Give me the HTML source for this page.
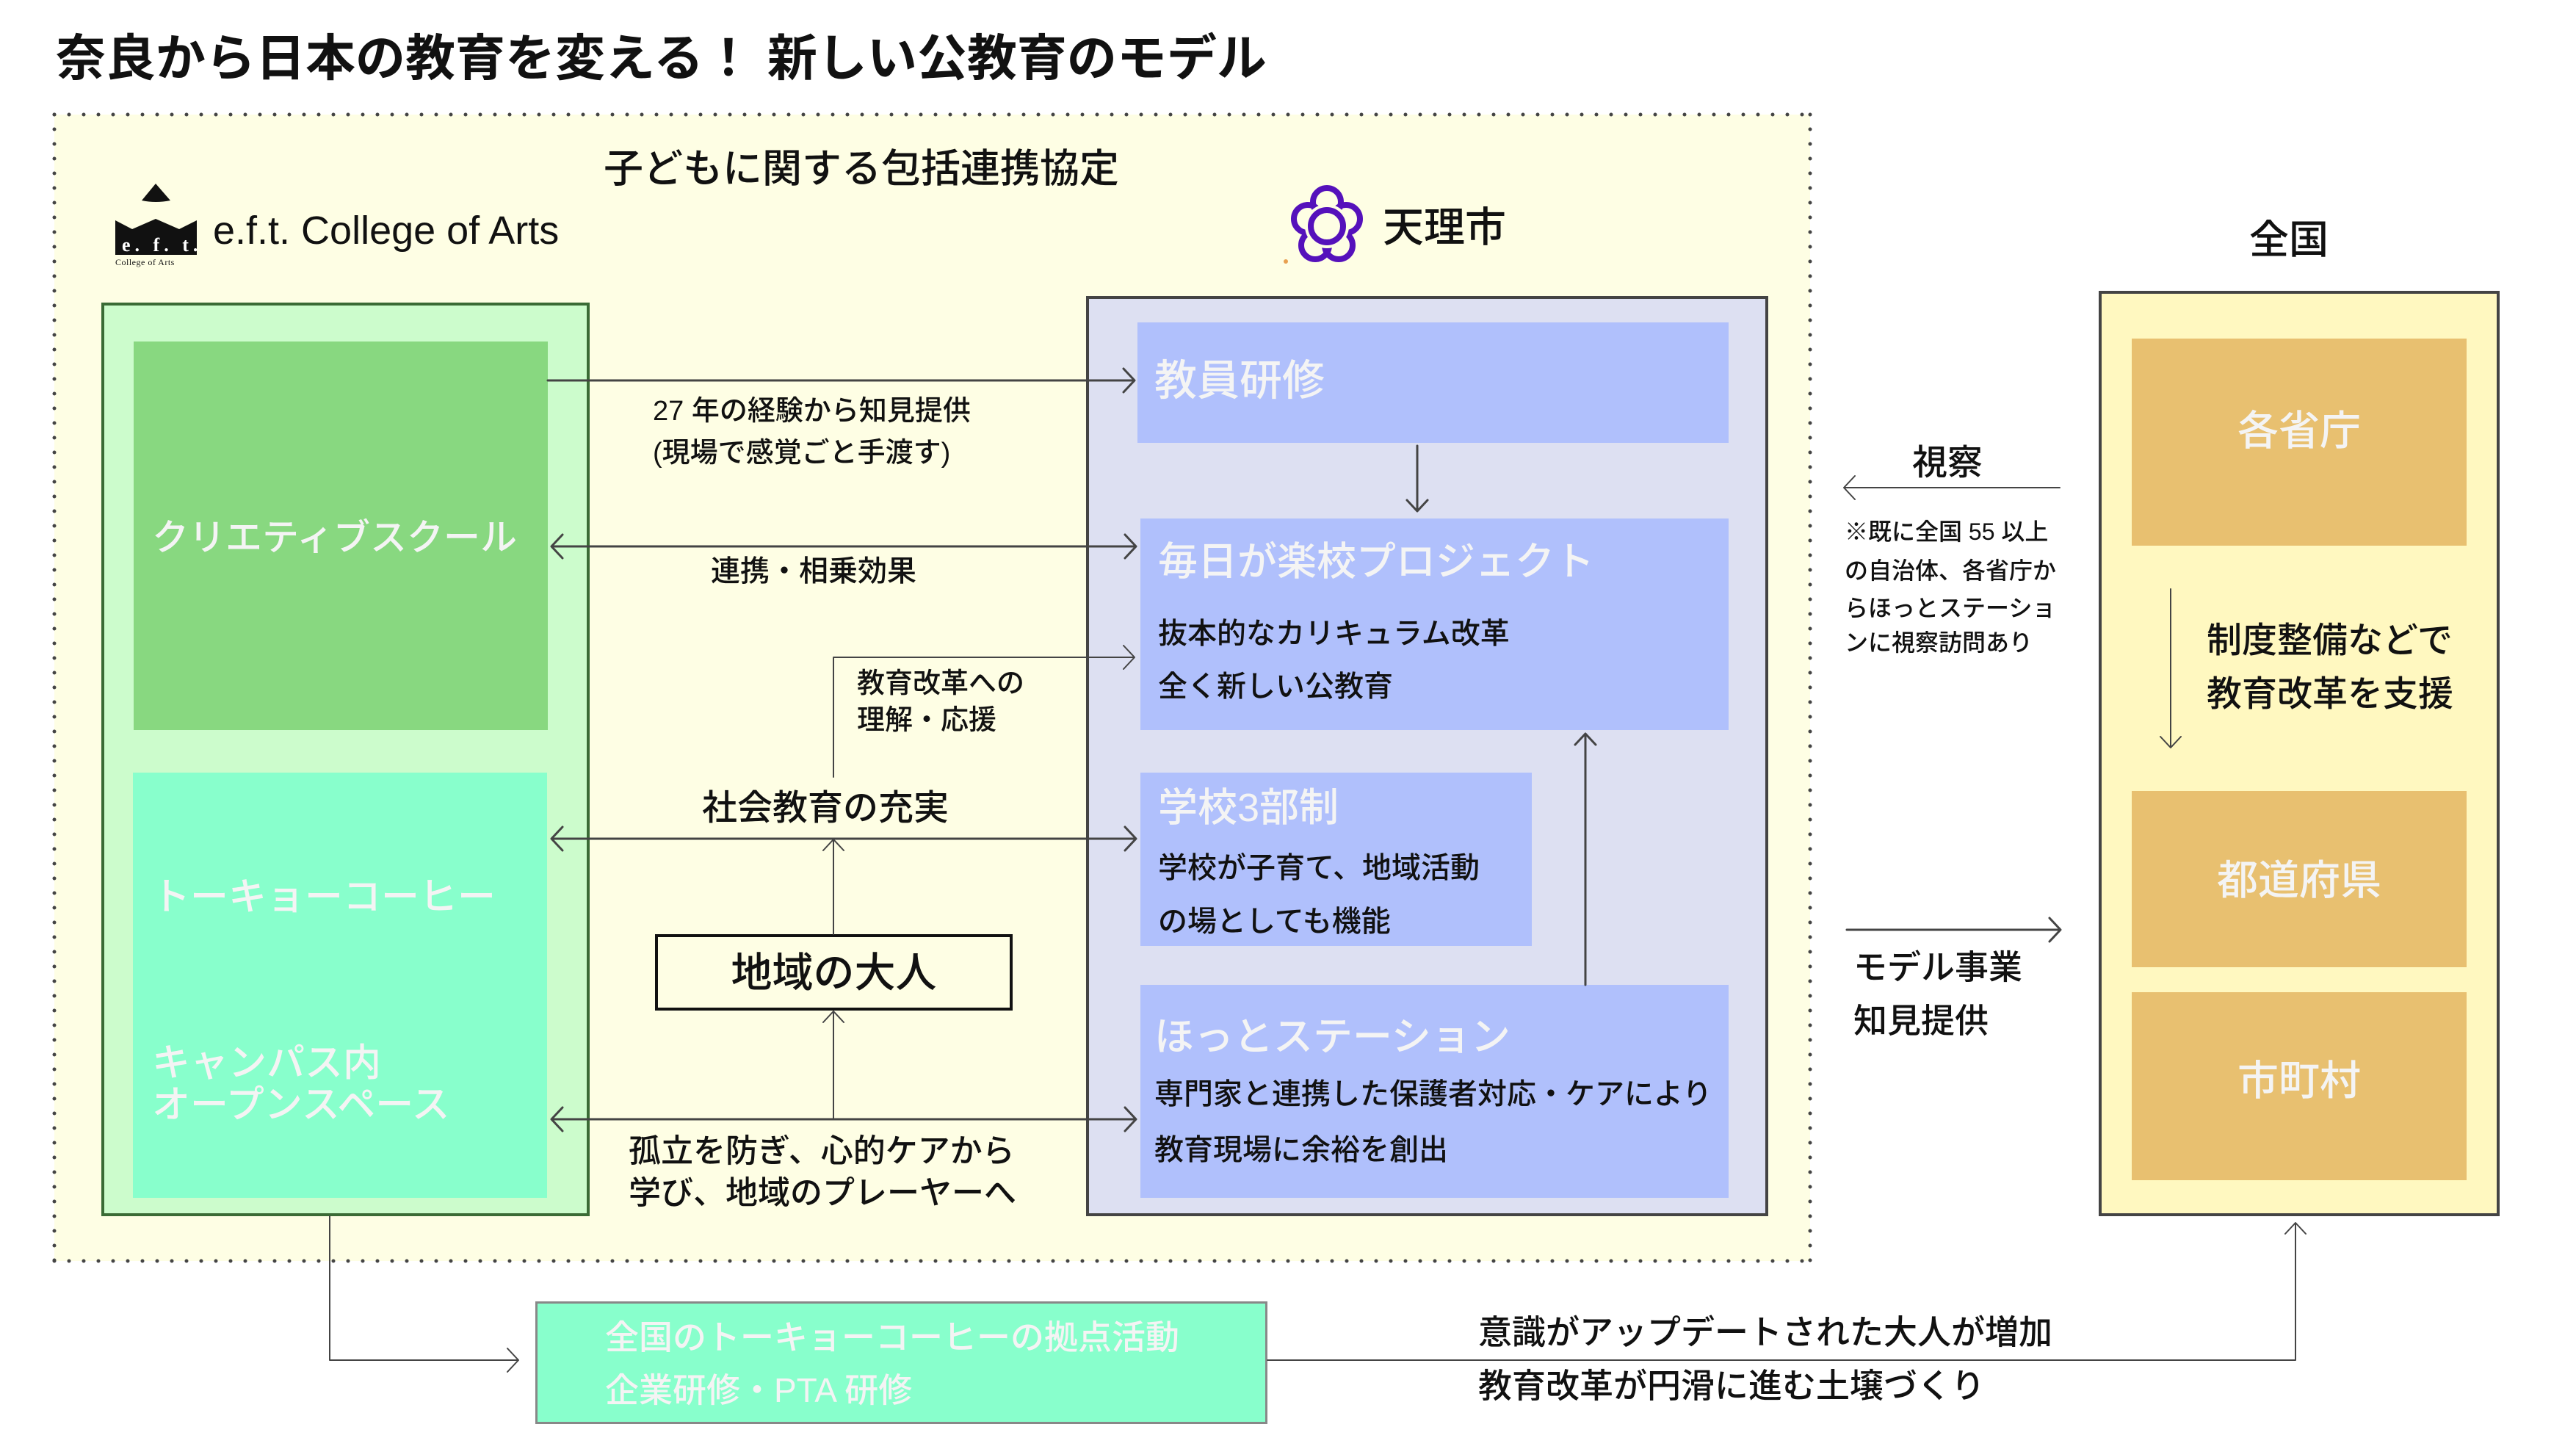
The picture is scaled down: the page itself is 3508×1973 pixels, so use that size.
<!DOCTYPE html>
<html><head><meta charset="utf-8">
<style>
html,body{margin:0;padding:0;}
body{width:3508px;height:1973px;position:relative;background:#fff;overflow:hidden;font-family:"Liberation Sans","Noto Sans CJK JP",sans-serif;color:#111;}
.a{position:absolute;white-space:nowrap;line-height:1;font-weight:500;}
.b{position:absolute;box-sizing:border-box;}
.w{color:#f4f4f4;}
</style></head><body>

<div class="b" style="left:74px;top:156px;width:2391px;height:1561px;background:#fefee4;"></div>

<div class="b" style="left:138px;top:412px;width:665px;height:1244px;background:#ccfccc;border:4px solid #3a6b35;"></div>
<div class="b" style="left:182px;top:465px;width:564px;height:529px;background:#88d880;"></div>
<div class="b" style="left:181px;top:1052px;width:564px;height:579px;background:#88ffcc;"></div>

<div class="b" style="left:1479px;top:403px;width:929px;height:1253px;background:#dde0f2;border:4px solid #444;"></div>
<div class="b" style="left:1549px;top:439px;width:805px;height:164px;background:#b0c0fc;"></div>
<div class="b" style="left:1553px;top:706px;width:801px;height:288px;background:#b0c0fc;"></div>
<div class="b" style="left:1553px;top:1052px;width:533px;height:236px;background:#b0c0fc;"></div>
<div class="b" style="left:1553px;top:1341px;width:801px;height:290px;background:#b0c0fc;"></div>

<div class="b" style="left:892px;top:1272px;width:487px;height:104px;border:4px solid #111;background:#fefee4;"></div>

<div class="b" style="left:2858px;top:396px;width:546px;height:1260px;background:#fff8c0;border:4px solid #444;"></div>
<div class="b" style="left:2903px;top:461px;width:456px;height:282px;background:#e8c070;"></div>
<div class="b" style="left:2903px;top:1077px;width:456px;height:240px;background:#e8c070;"></div>
<div class="b" style="left:2903px;top:1351px;width:456px;height:256px;background:#e8c070;"></div>

<div class="b" style="left:729px;top:1772px;width:997px;height:167px;background:#88ffcc;border:3px solid #888;"></div>

<svg width="3508" height="1973" style="position:absolute;left:0;top:0;" fill="none">
<g stroke="#444" stroke-width="5" stroke-dasharray="0 20" stroke-linecap="round">
<line x1="74" y1="156" x2="2465" y2="156"/>
<line x1="74" y1="1717" x2="2465" y2="1717"/>
<line x1="74" y1="156" x2="74" y2="1717"/>
<line x1="2465" y1="156" x2="2465" y2="1717"/>
</g>
<g stroke="#444" stroke-width="3" stroke-linejoin="round" stroke-linecap="round">
<path d="M746 518H1544 M1530 502L1545 518L1530 534"/>
<path d="M752 744H1546 M1532 728L1547 744L1532 760 M766 728L751 744L766 760"/>
<path d="M1135 1058V895H1544 M1530 879L1545 895L1530 911" stroke-width="2"/>
<path d="M752 1142H1546 M1532 1126L1547 1142L1532 1158 M766 1126L751 1142L766 1158"/>
<path d="M1135 1272V1144 M1121 1158L1135 1143L1149 1158" stroke-width="2"/>
<path d="M1135 1524V1378 M1121 1392L1135 1377L1149 1392" stroke-width="2"/>
<path d="M752 1524H1546 M1532 1508L1547 1524L1532 1540 M766 1508L751 1524L766 1540"/>
<path d="M1930 607V695 M1916 681L1930 696L1944 681"/>
<path d="M2159 1341V1000 M2145 1014L2159 999L2173 1014"/>
<path d="M2805 664H2512 M2526 648L2511 664L2526 680" stroke-width="2"/>
<path d="M2515 1266H2805 M2791 1250L2806 1266L2791 1282"/>
<path d="M2956 802V1017 M2942 1003L2956 1018L2970 1003" stroke-width="2"/>
<path d="M449 1656V1852H705 M691 1836L706 1852L691 1868" stroke-width="2"/>
<path d="M1726 1852H3126V1666 M3112 1680L3126 1665L3140 1680" stroke-width="2"/>
</g>
<path d="M193 273L212 250L232 273Q212 277 193 273Z" fill="#111"/>
<path d="M157 300L180 312L212 298L244 312L268 300V347H157Z" fill="#111"/>
<g stroke="#5511bb" stroke-width="8" fill="none">
<circle cx="1807" cy="275" r="19"/>
<circle cx="1781" cy="298" r="19"/>
<circle cx="1833" cy="298" r="19"/>
<circle cx="1791" cy="334" r="19"/>
<circle cx="1823" cy="334" r="19"/>
</g>
<circle cx="1807" cy="308" r="30" fill="#fefee4"/>
<circle cx="1807" cy="308" r="22" stroke="#5511bb" stroke-width="8" fill="none"/>
<circle cx="1751" cy="356" r="3" fill="#e8a050"/>
</svg>

<div class="a" style="left:166px;top:321px;font-family:'Liberation Serif',serif;font-size:26px;color:#fff;letter-spacing:6px;font-weight:bold;">e. f. t.</div>
<div class="a" style="left:157px;top:351px;font-family:'Liberation Serif',serif;font-size:12px;letter-spacing:0.5px;">College of Arts</div>

<div class="a" style="left:76px;top:46px;font-size:68px;font-weight:bold;">奈良から日本の教育を変える！ 新しい公教育のモデル</div>
<div class="a" style="left:822px;top:203px;font-size:54px;">子どもに関する包括連携協定</div>
<div class="a" style="left:290px;top:287px;font-size:54px;">e.f.t. College of Arts</div>
<div class="a" style="left:1883px;top:282px;font-size:56px;">天理市</div>
<div class="a" style="left:3063px;top:300px;font-size:54px;">全国</div>

<div class="a w" style="left:207px;top:707px;font-size:50px;">クリエティブスクール</div>
<div class="a w" style="left:207px;top:1196px;font-size:52px;">トーキョーコーヒー</div>
<div class="a w" style="left:207px;top:1422px;font-size:52px;">キャンパス内</div>
<div class="a w" style="left:207px;top:1479px;font-size:52px;">オープンスペース</div>

<div class="a" style="left:889px;top:541px;font-size:38px;">27 年の経験から知見提供</div>
<div class="a" style="left:889px;top:598px;font-size:38px;">(現場で感覚ごと手渡す)</div>
<div class="a" style="left:968px;top:758px;font-size:40px;">連携・相乗効果</div>
<div class="a" style="left:1167px;top:912px;font-size:38px;">教育改革への</div>
<div class="a" style="left:1167px;top:962px;font-size:38px;">理解・応援</div>
<div class="a" style="left:956px;top:1077px;font-size:48px;">社会教育の充実</div>
<div class="a" style="left:892px;top:1297px;width:487px;text-align:center;font-size:56px;">地域の大人</div>
<div class="a" style="left:856px;top:1546px;font-size:44px;">孤立を防ぎ、心的ケアから</div>
<div class="a" style="left:856px;top:1603px;font-size:44px;">学び、地域のプレーヤーへ</div>

<div class="a w" style="left:1572px;top:490px;font-size:58px;">教員研修</div>
<div class="a w" style="left:1577px;top:738px;font-size:54px;">毎日が楽校プロジェクト</div>
<div class="a" style="left:1577px;top:843px;font-size:40px;">抜本的なカリキュラム改革</div>
<div class="a" style="left:1577px;top:915px;font-size:40px;">全く新しい公教育</div>
<div class="a w" style="left:1577px;top:1073px;font-size:54px;">学校3部制</div>
<div class="a" style="left:1577px;top:1162px;font-size:40px;">学校が子育て、地域活動</div>
<div class="a" style="left:1577px;top:1235px;font-size:40px;">の場としても機能</div>
<div class="a w" style="left:1572px;top:1385px;font-size:54px;">ほっとステーション</div>
<div class="a" style="left:1572px;top:1470px;font-size:40px;">専門家と連携した保護者対応・ケアにより</div>
<div class="a" style="left:1572px;top:1546px;font-size:40px;">教育現場に余裕を創出</div>

<div class="a" style="left:2604px;top:607px;font-size:48px;">視察</div>
<div class="a" style="left:2512px;top:708px;font-size:32px;">※既に全国 55 以上</div>
<div class="a" style="left:2512px;top:761px;font-size:32px;">の自治体、各省庁か</div>
<div class="a" style="left:2512px;top:812px;font-size:32px;">らほっとステーショ</div>
<div class="a" style="left:2512px;top:859px;font-size:32px;">ンに視察訪問あり</div>
<div class="a" style="left:2524px;top:1294px;font-size:46px;">モデル事業</div>
<div class="a" style="left:2524px;top:1367px;font-size:46px;">知見提供</div>

<div class="a w" style="left:2903px;top:559px;width:456px;text-align:center;font-size:56px;">各省庁</div>
<div class="a" style="left:3005px;top:849px;font-size:48px;">制度整備などで</div>
<div class="a" style="left:3005px;top:922px;font-size:48px;">教育改革を支援</div>
<div class="a w" style="left:2903px;top:1171px;width:456px;text-align:center;font-size:56px;">都道府県</div>
<div class="a w" style="left:2903px;top:1444px;width:456px;text-align:center;font-size:56px;">市町村</div>

<div class="a w" style="left:824px;top:1798px;font-size:46px;">全国のトーキョーコーヒーの拠点活動</div>
<div class="a w" style="left:824px;top:1870px;font-size:46px;">企業研修・PTA 研修</div>
<div class="a" style="left:2013px;top:1791px;font-size:46px;">意識がアップデートされた大人が増加</div>
<div class="a" style="left:2013px;top:1864px;font-size:46px;">教育改革が円滑に進む土壌づくり</div>

</body></html>
